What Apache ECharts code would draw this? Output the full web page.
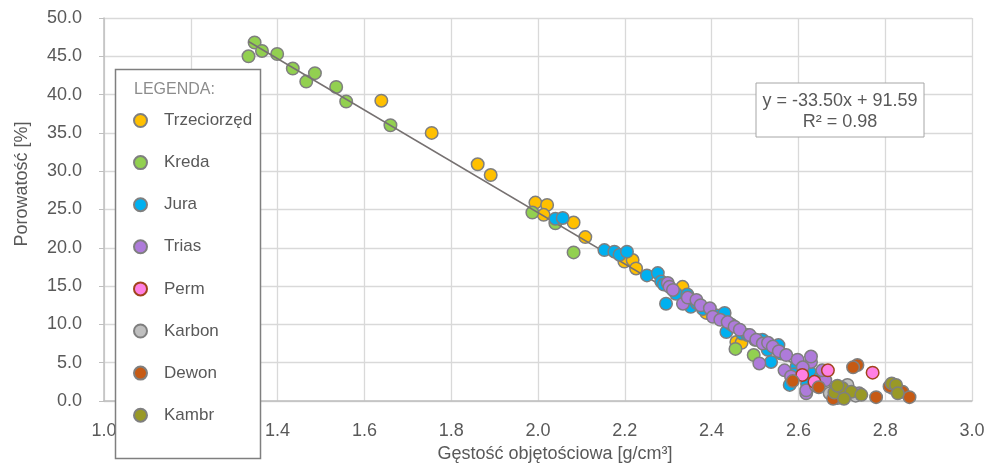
<!DOCTYPE html>
<html><head><meta charset="utf-8">
<script src="https://cdn.jsdelivr.net/npm/echarts/dist/echarts.min.js"></script>
<style>html,body{margin:0;padding:0;background:#fff}#c{width:995px;height:465px}</style>
</head><body><div id="c"></div>
<script>
const seriesNames = ['Trzeciorzęd','Kreda','Jura','Trias','Perm','Karbon','Dewon','Kambr'];
const seriesColors = ['#FFC000','#92D050','#00B0F0','#AE7BDA','#FF80E4','#BFBFBF','#C65A14','#999926'];
const trzeciorzed = [[1.639,39.2],[1.755,35.0],[1.861,30.9],[1.891,29.5],[1.994,25.9],[2.021,25.6],[2.013,24.3],[2.082,23.3],[2.109,21.4],[2.199,18.2],[2.218,18.4],[2.226,17.3],[2.326,14.5],[2.333,14.9],[2.388,11.5],[2.457,7.7],[2.469,7.6]];
const kreda = [[1.333,45.0],[1.347,46.8],[1.364,45.7],[1.399,45.3],[1.435,43.4],[1.466,41.7],[1.486,42.8],[1.535,41.0],[1.558,39.1],[1.660,36.0],[1.987,24.6],[2.040,23.2],[2.082,19.4],[2.455,6.8],[2.497,6.0]];
const jura = [[2.040,23.8],[2.057,23.9],[2.153,19.7],[2.176,19.5],[2.188,19.1],[2.205,19.5],[2.251,16.4],[2.276,16.7],[2.284,15.6],[2.295,12.7],[2.290,15.2],[2.318,14.0],[2.344,13.9],[2.352,12.3],[2.366,12.8],[2.380,12.0],[2.410,11.2],[2.430,11.5],[2.434,9.0],[2.445,10.0],[2.470,8.8],[2.483,8.6],[2.500,8.0],[2.517,8.0],[2.529,6.7],[2.537,5.1],[2.554,7.3],[2.560,6.2],[2.580,2.1],[2.596,4.5],[2.626,3.8],[2.649,3.0],[2.620,2.2],[2.590,3.5]];
const trias = [[2.299,15.4],[2.303,14.9],[2.311,14.5],[2.334,12.7],[2.345,13.5],[2.365,13.2],[2.375,12.5],[2.396,12.1],[2.403,11.0],[2.420,10.6],[2.437,10.3],[2.453,9.7],[2.465,9.3],[2.488,8.6],[2.503,8.0],[2.518,7.5],[2.530,7.6],[2.541,7.1],[2.555,6.5],[2.572,6.0],[2.510,4.9],[2.568,4.0],[2.583,3.2],[2.598,5.4],[2.629,5.1],[2.629,5.8],[2.618,1.0],[2.618,1.4],[2.640,2.0],[2.662,2.7],[2.683,1.4],[2.700,0.6],[2.740,1.0],[2.610,4.4],[2.655,4.0]];
const perm = [[2.668,4.0],[2.609,3.4],[2.771,3.7],[2.637,2.5]];
const karbon = [[2.672,1.0],[2.695,1.4],[2.713,2.1],[2.732,0.7],[2.817,1.7],[2.690,0.4]];
const dewon = [[2.587,2.6],[2.647,1.8],[2.709,0.8],[2.736,4.7],[2.726,4.4],[2.779,0.5],[2.810,1.9],[2.840,1.2],[2.856,0.5],[2.680,0.3]];
const kambr = [[2.683,1.1],[2.701,1.7],[2.722,1.2],[2.745,0.8],[2.705,0.3],[2.815,2.3],[2.825,2.1],[2.829,1.0],[2.690,2.0]];
const slope = -33.50, intercept = 91.59, r2 = 0.98;
const equationLines = ['y = -33.50x + 91.59', 'R² = 0.98'];
const xTitle = 'Gęstość objętościowa [g/cm³]';
const yTitle = 'Porowatość [%]';
const legendTitle = 'LEGENDA:';

const allData = [trzeciorzed,kreda,jura,trias,perm,karbon,dewon,kambr];
const allX = allData.flat().map(p=>p[0]);
const xMin = Math.min(...allX), xMax = Math.max(...allX);
const trend = [[xMin, slope*xMin+intercept],[xMax, slope*xMax+intercept]];

const FONT = 'Liberation Sans, Arial, sans-serif';
const TXT = '#595959';
const chart = echarts.init(document.getElementById('c'));
const series = allData.map((d,i)=>({
  name: seriesNames[i], type:'scatter', data:d, symbol:'circle', symbolSize:12.5,
  z: i<2 ? 2 : 4,
  itemStyle:{color:seriesColors[i], borderColor: i===4 ? '#A0441C' : '#7F7F7F', borderWidth:1.5, opacity:1},
  emphasis:{disabled:true}
}));
series.push({type:'line', data:trend, symbol:'none', z:3, silent:true,
  lineStyle:{color:'#767171', width:1.5}, clip:true});
chart.setOption({
  animation:false,
  grid:{left:104, right:23, top:18, bottom:64},
  xAxis:{type:'value', min:1, max:3, interval:0.2,
    axisLabel:{formatter:v=>v.toFixed(1), color:TXT, fontFamily:FONT, fontSize:18, margin:21},
    axisLine:{show:true, lineStyle:{color:'#BFBFBF', width:1.5}}, axisTick:{show:false},
    splitLine:{show:true, lineStyle:{color:'#D9D9D9', width:1.3}}},
  yAxis:{type:'value', min:0, max:50, interval:5,
    axisLabel:{formatter:v=>v.toFixed(1), color:TXT, fontFamily:FONT, fontSize:18, margin:22},
    axisLine:{show:true, lineStyle:{color:'#BFBFBF', width:1.5}},
    axisTick:{show:true, length:5, lineStyle:{color:'#BFBFBF'}},
    splitLine:{show:true, lineStyle:{color:'#D9D9D9', width:1.3}}},
  legend:{show:true, orient:'vertical', left:128, top:107, height:360, itemWidth:13, itemHeight:13, itemGap:25.1,
    icon:'circle', z:110, data:seriesNames,
    textStyle:{color:TXT, fontFamily:FONT, fontSize:17, padding:[0,0,0,12]}},
  graphic:[
    {type:'rect', z:100, shape:{x:115.5, y:69.5, width:145, height:389}, style:{fill:'#fff', stroke:'#7F7F7F', lineWidth:1.5}},
    {type:'text', z:110, x:134, y:90, style:{text:legendTitle, fill:'#8C8C8C', font:'16px '+FONT, verticalAlign:'middle'}},
    {type:'rect', z:100, shape:{x:756, y:83, width:168, height:54}, style:{fill:'#fff', stroke:'#A6A6A6', lineWidth:1}},
    {type:'text', z:110, x:840, y:101, style:{text:equationLines[0], fill:TXT, font:'18px '+FONT, align:'center', verticalAlign:'middle'}},
    {type:'text', z:110, x:840, y:122, style:{text:equationLines[1], fill:TXT, font:'18px '+FONT, align:'center', verticalAlign:'middle'}},
    {type:'text', z:110, x:555, y:454, style:{text:xTitle, fill:TXT, font:'18px '+FONT, align:'center', verticalAlign:'middle'}},
    {type:'text', z:110, x:22, y:184, rotation:Math.PI/2, style:{text:yTitle, fill:TXT, font:'18px '+FONT, align:'center', verticalAlign:'middle'}}
  ],
  series
});
</script></body></html>
